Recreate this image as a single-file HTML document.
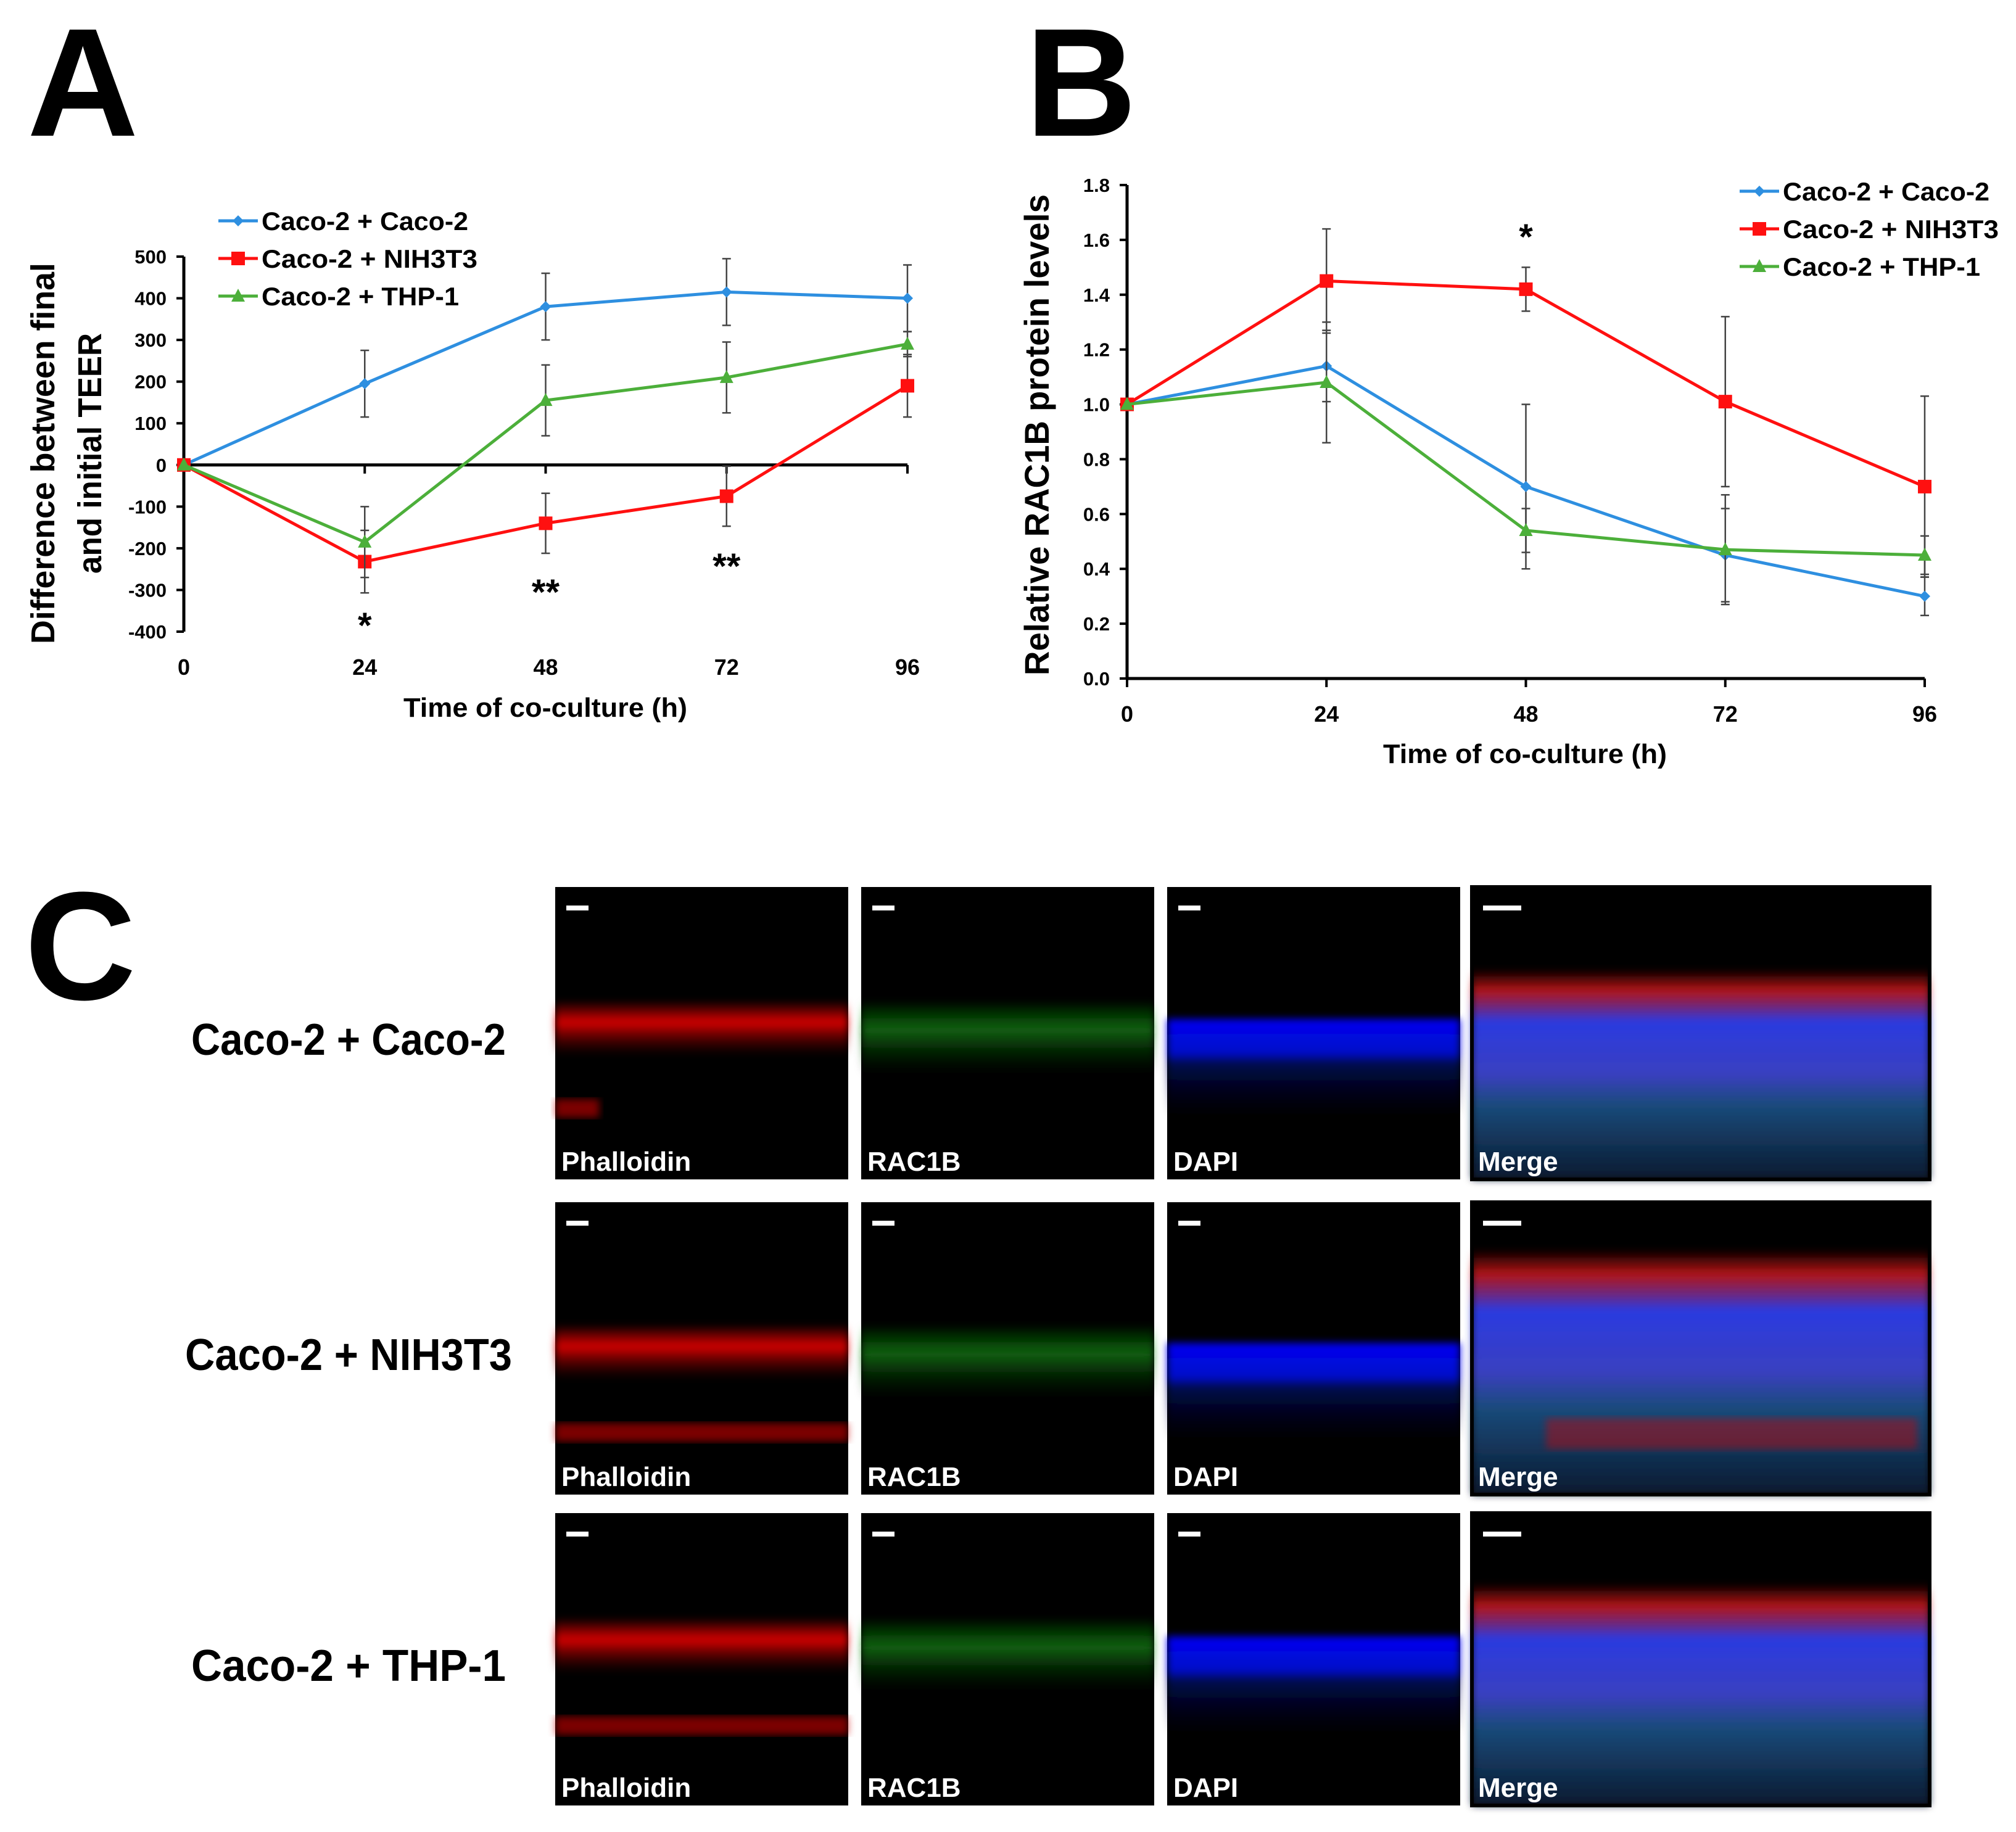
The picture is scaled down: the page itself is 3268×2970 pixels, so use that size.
<!DOCTYPE html>
<html><head><meta charset="utf-8">
<style>
html,body{margin:0;padding:0;background:#fff;}
svg{display:block;font-family:"Liberation Sans",sans-serif;}
</style></head>
<body>
<svg id="fig" width="3268" height="2970" viewBox="0 0 3268 2970" xmlns="http://www.w3.org/2000/svg">
<defs>
<linearGradient id="gRed" x1="0" y1="0" x2="0" y2="1"><stop offset="0" stop-color="#f00" stop-opacity="0"/><stop offset="0.4" stop-color="#e00" stop-opacity="0.9"/><stop offset="1" stop-color="#600" stop-opacity="0"/></linearGradient>
<linearGradient id="gGreen" x1="0" y1="0" x2="0" y2="1"><stop offset="0" stop-color="#0a0" stop-opacity="0"/><stop offset="0.4" stop-color="#1a8a1a" stop-opacity="0.7"/><stop offset="1" stop-color="#030" stop-opacity="0"/></linearGradient>
<linearGradient id="gBlue" x1="0" y1="0" x2="0" y2="1"><stop offset="0" stop-color="#00f" stop-opacity="0.95"/><stop offset="0.35" stop-color="#0010e0" stop-opacity="0.9"/><stop offset="0.45" stop-color="#001070" stop-opacity="0.7"/><stop offset="1" stop-color="#000830" stop-opacity="0"/></linearGradient>
<linearGradient id="gMerge" x1="0" y1="0" x2="0" y2="1"><stop offset="0" stop-color="#c01010" stop-opacity="0"/><stop offset="0.1" stop-color="#d01818" stop-opacity="0.85"/><stop offset="0.25" stop-color="#2a3ae0"/><stop offset="0.5" stop-color="#3a40c0"/><stop offset="0.65" stop-color="#1a4a7a"/><stop offset="1" stop-color="#0a1a30"/></linearGradient>
<filter id="blur"><feGaussianBlur stdDeviation="6"/></filter>
</defs>

<text x="44" y="220" font-size="250" font-weight="bold">A</text>
<text x="1662" y="220" font-size="250" font-weight="bold">B</text>
<text x="40" y="1620" font-size="250" font-weight="bold">C</text>

<g id="chartA"></g>
<g id="chartB"></g>
<g id="panelC"></g>
</svg>

<script>
// ---------- Chart A data ----------
const timesA = [0, 24, 48, 72, 96];
const yTicksA = [500, 400, 300, 200, 100, 0, -100, -200, -300, -400];
const cacoA = [0, 195, 380, 415, 400];
const cacoErrA = [0, 80, 80, 80, 80];
const nihA = [0, -232, -140, -75, 190];
const nihErrA = [0, 75, 72, 72, 75];
const thpA = [0, -185, 155, 210, 290];
const thpErrA = [0, 85, 85, 85, 30];
const seriesNames = ["Caco-2 + Caco-2", "Caco-2 + NIH3T3", "Caco-2 + THP-1"];
const starsA = [[24, "*"], [48, "**"], [72, "**"]];

// ---------- Chart B data ----------
const timesB = [0, 24, 48, 72, 96];
const yTicksB = [0.0, 0.2, 0.4, 0.6, 0.8, 1.0, 1.2, 1.4, 1.6, 1.8];
const cacoB = [1.0, 1.14, 0.70, 0.45, 0.30];
const cacoErrB = [0, 0.13, 0.30, 0.17, 0.07];
const nihB = [1.0, 1.45, 1.42, 1.01, 0.70];
const nihErrB = [0, 0.19, 0.08, 0.31, 0.33];
const thpB = [1.0, 1.08, 0.54, 0.47, 0.45];
const thpErrB = [0, 0.22, 0.08, 0.20, 0.07];
const starsB = [[48, "*"]];

const NS = "http://www.w3.org/2000/svg";
function mk(parent, tag, attrs, text) {
  const e = document.createElementNS(NS, tag);
  for (const k in attrs) e.setAttribute(k, attrs[k]);
  if (text !== undefined) e.textContent = text;
  parent.appendChild(e);
  return e;
}
const colors = ["#2e8fe0", "#ff1010", "#4caf3a"];

function marker(g, type, x, y, c) {
  let m;
  if (type === 0) m = mk(g, "polygon", {points: `${x},${y-9} ${x+9},${y} ${x},${y+9} ${x-9},${y}`, fill: c});
  else if (type === 1) m = mk(g, "rect", {x: x-11, y: y-11, width: 22, height: 22, fill: c});
  else m = mk(g, "polygon", {points: `${x},${y-12} ${x+11},${y+9} ${x-11},${y+9}`, fill: c});
  return m;
}

function drawChart(gid, cfg) {
  const g = document.getElementById(gid);
  const sx = t => cfg.x0 + (t - cfg.tmin) / (cfg.tmax - cfg.tmin) * (cfg.x1 - cfg.x0);
  const sy = v => cfg.yb + (v - cfg.vmin) / (cfg.vmax - cfg.vmin) * (cfg.yt - cfg.yb);
  const ya = mk(g, "line", {x1: cfg.x0, y1: sy(cfg.vmax), x2: cfg.x0, y2: sy(cfg.vmin), stroke: "#000", "stroke-width": 5});
  
  
  cfg.yTicks.forEach(v => {
    const y = sy(v);
    mk(g, "line", {x1: cfg.x0 - 12, y1: y, x2: cfg.x0, y2: y, stroke: "#000", "stroke-width": 4});
    const t = mk(g, "text", {x: cfg.x0 - 28, y: y + 11, "font-size": 31, "font-weight": "bold", "text-anchor": "end"}, cfg.fmt(v));
    
    
  });
  const xa = mk(g, "line", {x1: cfg.x0, y1: sy(cfg.xAxisAt), x2: sx(cfg.tmax), y2: sy(cfg.xAxisAt), stroke: "#000", "stroke-width": 5});
  
  
  cfg.times.forEach(t => {
    mk(g, "line", {x1: sx(t), y1: sy(cfg.xAxisAt), x2: sx(t), y2: sy(cfg.xAxisAt) + 14, stroke: "#000", "stroke-width": 4});
    const l = mk(g, "text", {x: sx(t), y: cfg.xLabelY, "font-size": 36, "font-weight": "bold", "text-anchor": "middle"}, String(t));
    
    
  });
  cfg.series.forEach((s, i) => {
    const sg = mk(g, "g", {});
    
    
    s.vals.forEach((v, j) => {
      const e = s.errs[j];
      if (!e) return;
      const x = sx(cfg.times[j]);
      mk(sg, "line", {x1: x, y1: sy(v - e), x2: x, y2: sy(v + e), stroke: "#444", "stroke-width": 2.5});
      mk(sg, "line", {x1: x - 7, y1: sy(v + e), x2: x + 7, y2: sy(v + e), stroke: "#444", "stroke-width": 2.5});
      mk(sg, "line", {x1: x - 7, y1: sy(v - e), x2: x + 7, y2: sy(v - e), stroke: "#444", "stroke-width": 2.5});
    });
    const pts = s.vals.map((v, j) => sx(cfg.times[j]) + "," + sy(v)).join(" ");
    const pl = mk(sg, "polyline", {points: pts, fill: "none", stroke: colors[i], "stroke-width": 5});
    
    
    s.vals.forEach((v, j) => {
      const m = marker(sg, i, sx(cfg.times[j]), sy(v), colors[i]);
      
      
    });
  });
  cfg.stars.forEach(st => {
    const s = mk(g, "text", {x: sx(st[0]), y: cfg.starY(st), "font-size": 58, "font-weight": "bold", "text-anchor": "middle"}, st[1]);
    
    
  });
  seriesNames.forEach((n, i) => {
    const y = cfg.legY + i * cfg.legDy;
    const lg = mk(g, "g", {});
    
    
    mk(lg, "line", {x1: cfg.legX, y1: y, x2: cfg.legX + 64, y2: y, stroke: colors[i], "stroke-width": 5});
    marker(lg, i, cfg.legX + 32, y, colors[i]);
    mk(lg, "text", {x: cfg.legX + 70, y: y + 15, "font-size": 42, "font-weight": "bold", textLength: cfg.legLen[i], lengthAdjust: "spacingAndGlyphs"}, n);
  });
  const xt = mk(g, "text", {x: cfg.xTitle[0], y: cfg.xTitle[1], "font-size": 44, "font-weight": "bold", "text-anchor": "middle", textLength: 460, lengthAdjust: "spacingAndGlyphs"}, "Time of co-culture (h)");
  
  
  cfg.yTitle.forEach(yt => {
    const t = mk(g, "text", {x: 0, y: 0, "font-size": yt[3], "font-weight": "bold", "text-anchor": "middle", textLength: yt[4], lengthAdjust: "spacingAndGlyphs", transform: `translate(${yt[0]},${yt[1]}) rotate(-90)`}, yt[2]);
    
    
  });
}

drawChart("chartA", {
  times: timesA, tmin: 0, tmax: 96, x0: 298, x1: 1471,
  vmin: -400, vmax: 500, yb: 1024, yt: 416, xAxisAt: 0,
  yTicks: yTicksA, fmt: v => String(v), xLabelY: 1094,
  series: [{vals: cacoA, errs: cacoErrA}, {vals: nihA, errs: nihErrA}, {vals: thpA, errs: thpErrA}],
  stars: starsA, starY: st => st[1] === "*" ? 1034 : (st[0] === 48 ? 980 : 938),
  legX: 354, legY: 358, legDy: 61, legLen: [335, 350, 320],
  xTitle: [884, 1162],
  yTitle: [[88, 735, "Difference between final", 54, 618], [164, 735, "and initial TEER", 54, 390]]
});
drawChart("chartB", {
  times: timesB, tmin: 0, tmax: 96, x0: 1827, x1: 3120,
  vmin: 0, vmax: 1.8, yb: 1100, yt: 300, xAxisAt: 0,
  yTicks: yTicksB, fmt: v => v.toFixed(1), xLabelY: 1170,
  series: [{vals: cacoB, errs: cacoErrB}, {vals: nihB, errs: nihErrB}, {vals: thpB, errs: thpErrB}],
  stars: starsB, starY: st => 404,
  legX: 2820, legY: 310, legDy: 61, legLen: [335, 350, 320],
  xTitle: [2472, 1237],
  yTitle: [[1700, 705, "Relative RAC1B protein levels", 56, 780]]
});

// ---------- Panel C ----------
const rowNames = ["Caco-2 + Caco-2", "Caco-2 + NIH3T3", "Caco-2 + THP-1"];
const colNames = ["Phalloidin", "RAC1B", "DAPI", "Merge"];
const C = document.getElementById("panelC");
const rowY = [1438, 1949, 2453];
const colX = [[900, 1375], [1396, 1871], [1892, 2367], [2386, 3128]];
const bandTop = [0.43, 0.46, 0.4];
const mergeTop = [0.28, 0.16, 0.24];
rowNames.forEach((rn, r) => {
  const lab = mk(C, "text", {x: 565, y: rowY[r] + 272, "font-size": 72, "font-weight": "bold", "text-anchor": "middle", textLength: r === 1 ? 530 : 510, lengthAdjust: "spacingAndGlyphs"}, rn);
  
  
  colNames.forEach((cn, c) => {
    const [xa, xb] = colX[c]; const w = xb - xa; const h = 474; const y0 = rowY[r];
    const pg = mk(C, "g", {});
    
    
    mk(pg, "rect", {x: xa, y: y0, width: w, height: h, fill: "#000"});
    const bt = y0 + h * bandTop[r];
    if (c === 0) {
      mk(pg, "rect", {x: xa, y: bt - 20, width: w, height: 90, fill: "url(#gRed)", filter: "url(#blur)"});
      mk(pg, "rect", {x: xa, y: bt + 140, width: w * (r === 0 ? 0.15 : 1), height: 30, fill: "#c00", opacity: 0.6, filter: "url(#blur)"});
    } else if (c === 1) {
      mk(pg, "rect", {x: xa, y: bt - 20, width: w, height: 120, fill: "url(#gGreen)", filter: "url(#blur)"});
    } else if (c === 2) {
      mk(pg, "rect", {x: xa, y: bt + 10, width: w, height: 160, fill: "url(#gBlue)", filter: "url(#blur)"});
    } else {
      mk(pg, "rect", {x: xa, y: y0 + h * mergeTop[r], width: w, height: h * (1 - mergeTop[r]), fill: "url(#gMerge)", filter: "url(#blur)"});
      if (r === 1) mk(pg, "rect", {x: xa + 120, y: y0 + 350, width: w - 140, height: 50, fill: "#d00", opacity: 0.4, filter: "url(#blur)"});
      mk(pg, "rect", {x: xa, y: y0, width: w, height: h, fill: "none", stroke: "#000", "stroke-width": 6});
    }
    mk(pg, "rect", {x: xa + 18, y: y0 + 30, width: c === 3 ? 62 : 36, height: 8, fill: "#fff"});
    mk(pg, "text", {x: xa + 10, y: y0 + h - 14, "font-size": 44, "font-weight": "bold", fill: "#fff"}, cn);
  });
});
</script>
</body></html>
